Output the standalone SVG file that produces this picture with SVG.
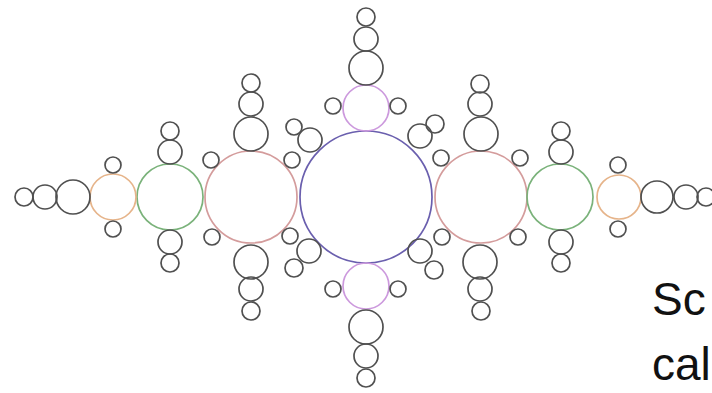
<svg xmlns="http://www.w3.org/2000/svg" width="712" height="393" viewBox="0 0 712 393">
<style>
circle{fill:none;stroke-width:1.7}
.k{stroke:#505050}
.c{stroke:#6a5fae}
.m{stroke:#cc99dd}
.r{stroke:#d49c9c}
.g{stroke:#7ab27a}
.o{stroke:#e6b48a}
text{font-family:"Liberation Sans",Arial,sans-serif;font-size:46px;fill:#111}
</style>
<rect width="712" height="393" fill="#fff"/>
<g id="center">
<circle class="c" cx="366" cy="197" r="66"/>
</g>
<g id="top-arm">
<circle class="m" cx="366" cy="108" r="23"/>
<circle class="k" cx="333" cy="106" r="8"/>
<circle class="k" cx="398" cy="106" r="8"/>
<circle class="k" cx="366" cy="68" r="17"/>
<circle class="k" cx="366" cy="39" r="12"/>
<circle class="k" cx="366" cy="17" r="9"/>
</g>
<g id="bottom-arm">
<circle class="m" cx="366" cy="286" r="23"/>
<circle class="k" cx="333" cy="289" r="8"/>
<circle class="k" cx="398" cy="289" r="8"/>
<circle class="k" cx="366" cy="327" r="17"/>
<circle class="k" cx="366" cy="356" r="12"/>
<circle class="k" cx="366" cy="378" r="9"/>
</g>
<g id="left-red">
<circle class="r" cx="251" cy="197" r="46"/>
<circle class="k" cx="211" cy="160" r="8"/>
<circle class="k" cx="292" cy="160" r="8"/>
<circle class="k" cx="212" cy="237" r="8"/>
<circle class="k" cx="290" cy="236" r="8"/>
<circle class="k" cx="251" cy="134" r="17"/>
<circle class="k" cx="251" cy="104" r="12"/>
<circle class="k" cx="251" cy="83" r="9"/>
<circle class="k" cx="251" cy="262" r="17"/>
<circle class="k" cx="251" cy="289" r="12"/>
<circle class="k" cx="251" cy="311" r="9"/>
<circle class="k" cx="310" cy="140" r="12"/>
<circle class="k" cx="294" cy="127" r="8"/>
<circle class="k" cx="309" cy="251" r="12"/>
<circle class="k" cx="294" cy="268" r="9"/>
</g>
<g id="right-red">
<circle class="r" cx="481" cy="197" r="46"/>
<circle class="k" cx="441" cy="158" r="8"/>
<circle class="k" cx="520" cy="158" r="8"/>
<circle class="k" cx="442" cy="237" r="8"/>
<circle class="k" cx="518" cy="237" r="8"/>
<circle class="k" cx="481" cy="134" r="17"/>
<circle class="k" cx="480" cy="104" r="12"/>
<circle class="k" cx="480" cy="84" r="9"/>
<circle class="k" cx="480" cy="262" r="17"/>
<circle class="k" cx="480" cy="289" r="12"/>
<circle class="k" cx="481" cy="311" r="9"/>
<circle class="k" cx="420" cy="136" r="12"/>
<circle class="k" cx="435" cy="124" r="9"/>
<circle class="k" cx="420" cy="251" r="12"/>
<circle class="k" cx="434" cy="270" r="9"/>
</g>
<g id="left-green">
<circle class="g" cx="170" cy="197" r="33"/>
<circle class="k" cx="170" cy="152" r="12"/>
<circle class="k" cx="170" cy="131" r="9"/>
<circle class="k" cx="170" cy="242" r="12"/>
<circle class="k" cx="170" cy="263" r="9"/>
</g>
<g id="right-green">
<circle class="g" cx="560" cy="197" r="33"/>
<circle class="k" cx="561" cy="152" r="12"/>
<circle class="k" cx="561" cy="131" r="9"/>
<circle class="k" cx="561" cy="242" r="12"/>
<circle class="k" cx="561" cy="263" r="9"/>
</g>
<g id="left-orange">
<circle class="o" cx="113" cy="197" r="23"/>
<circle class="k" cx="113" cy="165" r="8"/>
<circle class="k" cx="113" cy="229" r="8"/>
<circle class="k" cx="73" cy="197" r="17"/>
<circle class="k" cx="45" cy="197" r="12"/>
<circle class="k" cx="24" cy="197" r="9"/>
</g>
<g id="right-orange">
<circle class="o" cx="619" cy="197" r="22"/>
<circle class="k" cx="618" cy="165" r="8"/>
<circle class="k" cx="618" cy="229" r="8"/>
<circle class="k" cx="657" cy="197" r="16"/>
<circle class="k" cx="686" cy="197" r="12"/>
<circle class="k" cx="706" cy="197" r="9"/>
</g>
<g id="caption">
<text x="652" y="315">Sc</text>
<text x="652" y="380">cal</text>
</g>
</svg>
